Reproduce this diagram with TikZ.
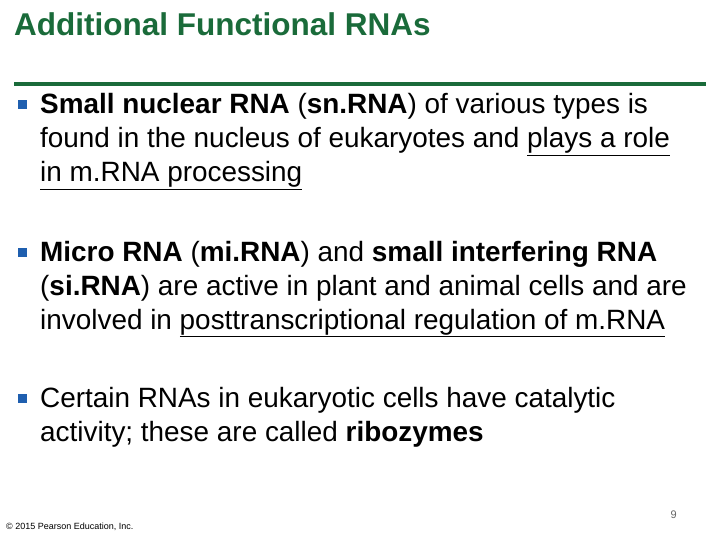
\documentclass[tikz,border=0pt]{standalone}
\usepackage{fontspec}
\setmainfont{Liberation Sans}
\definecolor{tgreen}{HTML}{1A6B3A}
\definecolor{bblue}{HTML}{1F5FAF}
\begin{document}
\begin{tikzpicture}[x=1pt,y=-1pt,
  ln/.style={anchor=base west,inner sep=0pt,font=\fontsize{27.9}{32}\selectfont},
  bul/.style={fill=bblue,minimum size=9pt,inner sep=0pt}]
\useasboundingbox[fill=white] (0,0) rectangle (720,540);
\node[anchor=base west,inner sep=0pt,font=\fontsize{31.5}{36}\selectfont\bfseries,text=tgreen] (title) at (14,36) {Additional Functional RNAs};
\coordinate (l0) at (14,84); \coordinate (l1) at (706,84);
\draw[tgreen,line width=4pt] (l0) -- (l1);
\node[bul] (b1) at (22,105) {};
\node[ln] (t11) at (40,114) {\textbf{Small nuclear RNA} (\textbf{sn.RNA}) of various types is};
\node[ln] (t12) at (40,148) {found in the nucleus of eukaryotes and \underline{plays a role}};
\node[ln] (t13) at (40,182) {\underline{in m.RNA processing}};
\node[bul] (b2) at (22,252) {};
\node[ln] (t21) at (40,261) {\textbf{Micro RNA} (\textbf{mi.RNA}) and \textbf{small interfering RNA}};
\node[ln] (t22) at (40,295) {(\textbf{si.RNA}) are active in plant and animal cells and are};
\node[ln] (t23) at (40,329) {involved in \underline{posttranscriptional regulation of m.RNA}};
\node[bul] (b3) at (22,398) {};
\node[ln] (t31) at (40,407) {Certain RNAs in eukaryotic cells have catalytic};
\node[ln] (t32) at (40,441) {activity; these are called \textbf{ribozymes}};
\node[anchor=base west,inner sep=0pt,font=\fontsize{9}{10}\selectfont] (copy) at (6,529) {© 2015 Pearson Education, Inc.};
\node[anchor=base east,inner sep=0pt,font=\fontsize{11}{12}\selectfont,text=black!60] (pg) at (677,518) {9};
\end{tikzpicture}
\end{document}
